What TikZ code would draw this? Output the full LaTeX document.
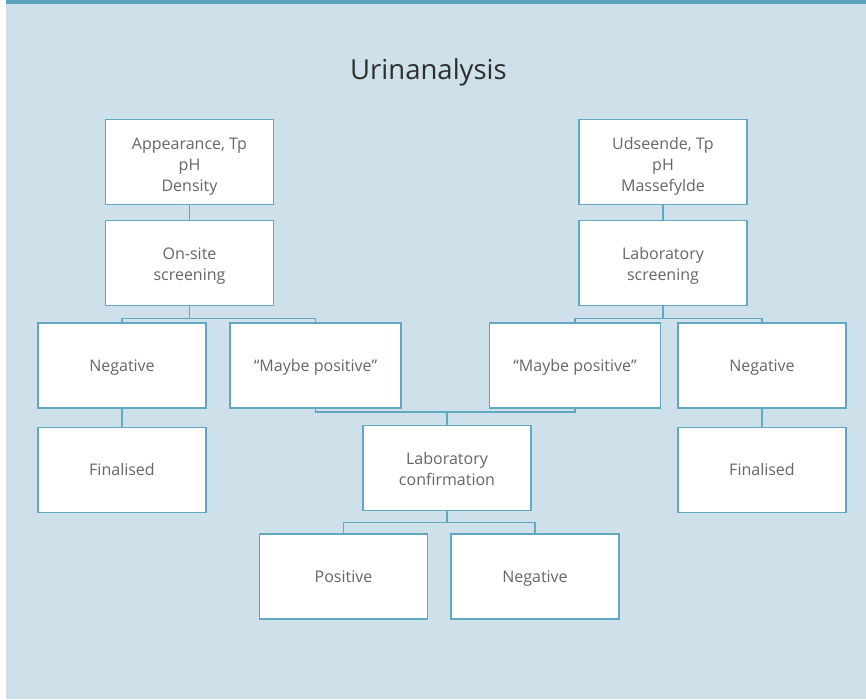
\documentclass[tikz,border=0pt]{standalone}
\usepackage{fontspec}
\setmainfont{Open Sans}
\usetikzlibrary{positioning,calc}
\definecolor{panelfill}{HTML}{CEE1EA}
\definecolor{panelbar}{HTML}{5AA3BF}
\definecolor{boxline}{HTML}{62A8C2}
\definecolor{boxtext}{HTML}{666666}
\definecolor{titletext}{HTML}{2E2E2E}
\tikzset{
  box/.style={draw=boxline, fill=white, line width=1.2pt, align=center,
              minimum width=168pt, minimum height=85pt, inner sep=2pt,
              text depth=0pt, text height=12pt,
              font=\fontsize{16}{21}\selectfont\color{boxtext}},
  wide/.style={box, minimum width=171pt},
  lines2/.style={text height=34pt},
  lines3/.style={text height=58pt},
  link/.style={draw=boxline, line width=1.2pt},
}

\begin{document}
\begin{tikzpicture}[x=1pt, y=-1pt, node distance=15pt and 24pt]

% ---- panel ------------------------------------------------------------------
\useasboundingbox (0,0) rectangle (866,699);
\fill[panelfill] (6,0) rectangle (866,699);
\fill[panelbar] (6,0) rectangle (866,4);
\node[font=\fontsize{27.5}{32}\selectfont\color{titletext}, anchor=base] (title)
  at (428.5,79.5) {Urinanalysis};

% ---- on-site branch ---------------------------------------------------------
\node[box, lines3] (lookL) at (189.5,162) {Appearance, Tp\\pH\\Density};
\node[box, lines2, below=of lookL] (onsite) {On-site\\screening};
\node[box] (negL) at (122,365.5) {Negative};
\node[wide] (maybeL) at (315.5,365.5) {“Maybe positive”};
\node[box, below=18pt of negL] (finL) {Finalised};

% ---- laboratory branch ------------------------------------------------------
\node[box, lines3] (lookR) at (663,162) {Udseende, Tp\\pH\\Massefylde};
\node[box, lines2, below=of lookR] (labscr) {Laboratory\\screening};
\node[wide] (maybeR) at (575,365.5) {“Maybe positive”};
\node[box] (negR) at (762,365.5) {Negative};
\node[box, below=18pt of negR] (finR) {Finalised};

% ---- confirmation -----------------------------------------------------------
\node[box, lines2] (conf) at (447,468) {Laboratory\\confirmation};
\node[box] (pos) at (343.5,576.5) {Positive};
\node[box] (negC) at (535,576.5) {Negative};

% ---- connectors -------------------------------------------------------------
\draw[link] (lookL) -- (onsite);
\draw[link] (lookR) -- (labscr);
\draw[link] (negL) -- (finL);
\draw[link] (negR) -- (finR);
\coordinate (busL) at ($(onsite.south)+(0,12)$);
\coordinate (busR) at ($(labscr.south)+(0,12)$);
\coordinate (busC) at ($(conf.north)+(0,-13)$);
\coordinate (busD) at ($(conf.south)+(0,11)$);
\draw[link] (onsite.south) -- (busL);
\draw[link] (negL.north) |- (busL) -| (maybeL.north);
\draw[link] (labscr.south) -- (busR);
\draw[link] (maybeR.north) |- (busR) -| (negR.north);
\draw[link] (maybeL.south) |- (busC) -| (maybeR.south);
\draw[link] (busC) -- (conf.north);
\draw[link] (conf.south) -- (busD);
\draw[link] (pos.north) |- (busD) -| (negC.north);
\end{tikzpicture}
\end{document}
